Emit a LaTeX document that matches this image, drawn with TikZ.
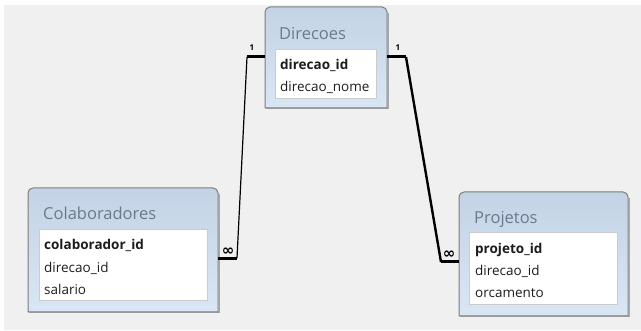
\documentclass[tikz,border=0pt]{standalone}
\usepackage{fontspec}
\setmainfont{Open Sans}
\newfontfamily\symfont{DejaVu Sans}
\usetikzlibrary{calc}

\definecolor{canvasgray}{HTML}{F0F0F0}
\definecolor{hdrtop}{HTML}{C3D3E5}
\definecolor{hdrbot}{HTML}{D9E6F4}
\definecolor{framecol}{HTML}{7C7C7C}
\definecolor{shadowcol}{HTML}{A8A8A8}
\definecolor{listborder}{HTML}{CBCBCB}
\definecolor{titlecol}{HTML}{6A798C}
\definecolor{fieldcol}{HTML}{1C1C1C}

% outline of a table window: rounded top corners, square bottom corners
\newcommand\framepath[1]{(#1.south west) -- ($(#1.north west)+(0,5)$)
  arc[start angle=180,end angle=90,radius=5pt]
  -- ($(#1.north east)+(-5,0)$)
  arc[start angle=90,end angle=0,radius=5pt]
  -- (#1.south east) -- cycle}

\newcommand\tableframe[1]{%
  \draw[shadowcol,line width=1pt] ($(#1.north east)+(1,6)$) -- ($(#1.south east)+(1,1)$) -- ($(#1.south west)+(1,1)$);
  \shade[top color=hdrtop,bottom color=hdrbot] \framepath{#1};
  \draw[framecol,line width=1pt] \framepath{#1};
}

\begin{document}
\begin{tikzpicture}[x=1pt,y=-1pt,
  tablebox/.style={anchor=north west,inner sep=0pt,outer sep=0pt,draw=none},
  listbox/.style={anchor=north west,inner sep=0pt,outer sep=0pt,fill=white,draw=listborder,line width=1pt},
  tabletitle/.style={anchor=base west,inner sep=0pt,text=titlecol,font=\fontsize{16.5}{16.5}\selectfont},
  field/.style={anchor=base west,inner sep=0pt,text=fieldcol,font=\fontsize{13.5}{13.5}\selectfont},
  keyfield/.style={field,font=\fontsize{13.5}{13.5}\selectfont\bfseries},
  stub/.style={line width=3pt},
  joinline/.style={line width=1.2pt},
  joinbold/.style={line width=2.4pt},
  one/.style={inner sep=0pt,font=\fontsize{8}{8}\selectfont\bfseries},
  many/.style={inner sep=0pt,font=\symfont\fontsize{15}{15}\selectfont\bfseries}]

\useasboundingbox (0,0) rectangle (641,331);
\fill[white] (0,0) rectangle (641,331);
\fill[canvasgray] (4,5) rectangle (641,330);

% --- Direcoes ---
\node[tablebox,minimum width=122pt,minimum height=101pt] (dir) at (265,7) {};
\tableframe{dir}
\node[tabletitle] (dirT) at (279,40) {Direcoes};
\node[listbox,minimum width=101pt,minimum height=49pt] (dirL) at (275,50) {};
\node[keyfield] (dirF1) at (280,70) {direcao\_id};
\node[field] (dirF2) at (280,91.5) {direcao\_nome};

% --- Colaboradores ---
\node[tablebox,minimum width=190pt,minimum height=124pt] (col) at (28,188) {};
\tableframe{col}
\node[tabletitle] (colT) at (43,220) {Colaboradores};
\node[listbox,minimum width=168pt,minimum height=71pt] (colL) at (39,230) {};
\node[keyfield] (colF1) at (44,250) {colaborador\_id};
\node[field] (colF2) at (44,273) {direcao\_id};
\node[field] (colF3) at (44,295) {salario};

% --- Projetos ---
\node[tablebox,minimum width=169pt,minimum height=124pt] (proj) at (459,192) {};
\tableframe{proj}
\node[tabletitle] (projT) at (474,224) {Projetos};
\node[listbox,minimum width=148pt,minimum height=72pt] (projL) at (469,233) {};
\node[keyfield] (projF1) at (475,254) {projeto\_id};
\node[field] (projF2) at (475,276) {direcao\_id};
\node[field] (projF3) at (475,298) {orcamento};

% --- relationship: Direcoes 1 -- oo Colaboradores ---
\coordinate (aStart) at ($(dir.north west)+(0,50)$);
\coordinate (aBend1) at ($(aStart)+(-18,0)$);
\coordinate (aEnd) at ($(col.north east)+(0,71)$);
\coordinate (aBend2) at ($(aEnd)+(19,0)$);
\draw[stub] (aStart) -- (aBend1);
\draw[joinline] (aBend1) -- ($(aBend2)+(0,-1)$);
\draw[stub] (aBend2) -- (aEnd);
\node[one] (aOne) at ($(aBend1)+(5,-9)$) {1};
\node[many] (aMany) at ($(aEnd)+(10,-7)$) {∞};

% --- relationship: Direcoes 1 -- oo Projetos ---
\coordinate (bStart) at ($(dir.north east)+(0,50)$);
\coordinate (bBend1) at ($(bStart)+(19,0)$);
\coordinate (bEnd) at ($(proj.north west)+(0,70)$);
\coordinate (bBend2) at ($(bEnd)+(-18,0)$);
\draw[stub] (bStart) -- (bBend1);
\draw[joinbold] (bBend1) -- (bBend2);
\draw[stub] (bBend2) -- (bEnd);
\node[one] (bOne) at ($(bBend1)+(-8,-9)$) {1};
\node[many] (bMany) at ($(bBend2)+(8,-7)$) {∞};

\end{tikzpicture}
\end{document}
